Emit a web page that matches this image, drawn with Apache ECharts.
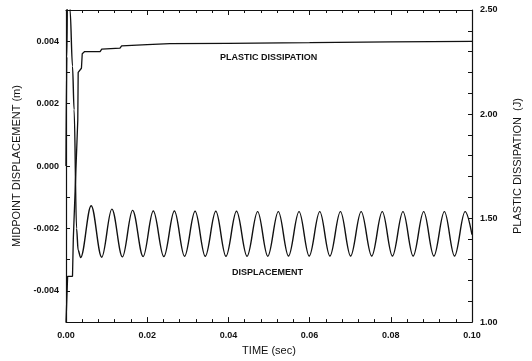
<!DOCTYPE html>
<html>
<head>
<meta charset="utf-8">
<script src="https://cdn.jsdelivr.net/npm/echarts@6/dist/echarts.min.js"></script>
<style>
  html, body { margin: 0; padding: 0; background: #fff; }
  #chart { width: 532px; height: 361px; }
</style>
</head>
<body>
<div id="chart"></div>
<script>
// Midpoint displacement (m) versus time (s): initial swing, then crests and troughs
const dispTime = [
  0.0000, 0.0002, 0.0004, 0.0008, 0.0010, 0.0016, 0.0020, 0.0026, 0.0030,
  0.0036, 0.0062, 0.0088, 0.0113, 0.0139, 0.0164, 0.0190, 0.0215, 0.0241,
  0.0267, 0.0292, 0.0318, 0.0343, 0.0369, 0.0394, 0.0420, 0.0446, 0.0472,
  0.0497, 0.0523, 0.0548, 0.0574, 0.0599, 0.0625, 0.0650, 0.0676, 0.0701,
  0.0727, 0.0753, 0.0779, 0.0804, 0.0830, 0.0855, 0.0881, 0.0906, 0.0932,
  0.0957, 0.0983, 0.1000
];
const dispValue = [
  0.00000, 0.00350, 0.00620, 0.00620, 0.00500, 0.00320, 0.00180, -0.00200, -0.00270,
  -0.00293, -0.00127, -0.00292, -0.00138, -0.00291, -0.00142, -0.00290, -0.00144, -0.00290,
  -0.00144, -0.00289, -0.00145, -0.00289, -0.00145, -0.00289, -0.00145, -0.00289, -0.00146,
  -0.00289, -0.00146, -0.00288, -0.00146, -0.00288, -0.00146, -0.00288, -0.00146, -0.00288,
  -0.00146, -0.00288, -0.00146, -0.00288, -0.00146, -0.00288, -0.00146, -0.00288, -0.00146,
  -0.00288, -0.00146, -0.00220
];

// Cumulative plastic dissipation (J) versus time (s)
const dissTime = [
  0.0000, 0.0003, 0.0004, 0.0016, 0.0018, 0.0029, 0.0030, 0.0038, 0.0040,
  0.0046, 0.0084, 0.0088, 0.0133, 0.0137, 0.0200, 0.0256, 0.0400, 0.0600,
  0.0800, 0.1000
];
const dissValue = [
  1.000, 1.000, 1.220, 1.220, 1.400, 1.970, 2.200, 2.220, 2.290,
  2.300, 2.300, 2.312, 2.317, 2.328, 2.334, 2.338, 2.340, 2.343,
  2.347, 2.349
];

// Labelled ticks on each axis
const timeTicks = ['0.00', '0.02', '0.04', '0.06', '0.08', '0.10'];
const dispTicks = ['-0.004', '-0.002', '0.000', '0.002', '0.004'];
const dissTicks = ['1.00', '1.50', '2.00', '2.50'];

const displacement = dispTime.map((t, i) => [t, dispValue[i]]);
const dissipation = dissTime.map((t, i) => [t, dissValue[i]]);

const FONT = '"Liberation Sans", Arial, sans-serif';
const INK = '#111';

const labelStyle = { color: INK, fontFamily: FONT, fontSize: 9, fontWeight: 'bold' };

// show a tick value only when it is one of the labelled ticks
function pick(list, v, digits) {
  const s = v.toFixed(digits);
  const clean = s === '-' + (0).toFixed(digits) ? (0).toFixed(digits) : s;
  return list.indexOf(clean) >= 0 ? clean : '';
}

const chart = echarts.init(document.getElementById('chart'), null, { renderer: 'canvas' });

chart.setOption({
  animation: false,
  backgroundColor: '#fff',
  grid: { left: 66, right: 60, top: 10, bottom: 37, containLabel: false },
  xAxis: [
    {
      type: 'value', position: 'bottom', min: 0, max: 0.1, interval: 0.02,
      name: 'TIME (sec)', nameLocation: 'middle', nameGap: 21,
      nameTextStyle: { color: INK, fontFamily: FONT, fontSize: 11 },
      axisLine: { onZero: false, lineStyle: { color: INK, width: 1.2 } },
      axisTick: { inside: true, length: 5, lineStyle: { color: INK } },
      minorTick: { show: true, splitNumber: 5, length: 3, lineStyle: { color: INK } },
      axisLabel: Object.assign({ margin: 9, formatter: v => pick(timeTicks, v, 2) }, labelStyle),
      splitLine: { show: false }
    },
    {
      type: 'value', position: 'top', min: 0, max: 0.1, interval: 0.02,
      axisLine: { onZero: false, lineStyle: { color: INK, width: 1.2 } },
      axisTick: { inside: true, length: 5, lineStyle: { color: INK } },
      minorTick: { show: true, splitNumber: 5, length: 3, lineStyle: { color: INK } },
      axisLabel: { show: false },
      splitLine: { show: false }
    }
  ],
  yAxis: [
    {
      type: 'value', position: 'left', min: -0.005, max: 0.005, interval: 0.001,
      name: 'MIDPOINT DISPLACEMENT (m)', nameLocation: 'middle', nameGap: 44,
      nameTextStyle: { color: INK, fontFamily: FONT, fontSize: 11 },
      axisLine: { onZero: false, lineStyle: { color: INK, width: 1.2 } },
      axisTick: { inside: true, length: 4, lineStyle: { color: INK } },
      axisLabel: Object.assign({ margin: 7, formatter: v => pick(dispTicks, v, 3) }, labelStyle),
      splitLine: { show: false }
    },
    {
      type: 'value', position: 'right', min: 1, max: 2.5, interval: 0.1,
      name: 'PLASTIC DISSIPATION  (J)', nameLocation: 'middle', nameGap: 40,
      nameTextStyle: { color: INK, fontFamily: FONT, fontSize: 11 },
      axisLine: { onZero: false, lineStyle: { color: INK, width: 1.2 } },
      axisTick: { inside: true, length: 4, lineStyle: { color: INK } },
      axisLabel: Object.assign({ margin: 8, formatter: v => pick(dissTicks, v, 2) }, labelStyle),
      splitLine: { show: false }
    }
  ],
  series: [
    {
      name: 'DISPLACEMENT', type: 'line', xAxisIndex: 0, yAxisIndex: 0,
      data: displacement, smooth: 0.36, smoothMonotone: 'x', showSymbol: false, clip: true,
      lineStyle: { color: INK, width: 1.4 }
    },
    {
      name: 'PLASTIC DISSIPATION', type: 'line', xAxisIndex: 0, yAxisIndex: 1,
      data: dissipation, smooth: false, showSymbol: false, clip: true,
      lineStyle: { color: INK, width: 1.3 }
    }
  ],
  graphic: [
    {
      type: 'text', left: 220, top: 53,
      style: { text: 'PLASTIC DISSIPATION', fill: INK, font: 'bold 9px ' + FONT }
    },
    {
      type: 'text', left: 232, top: 268,
      style: { text: 'DISPLACEMENT', fill: INK, font: 'bold 9px ' + FONT }
    }
  ]
});
</script>
</body>
</html>
